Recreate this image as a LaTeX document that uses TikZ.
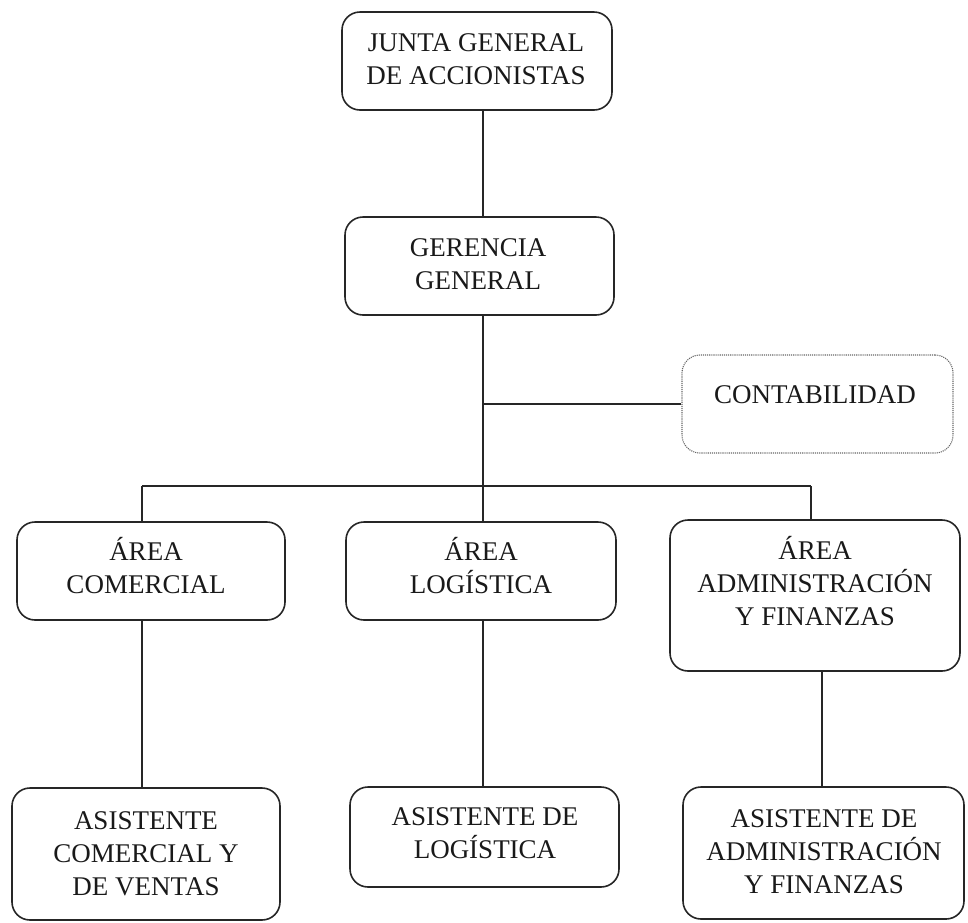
\documentclass[tikz,border=0pt]{standalone}
\usepackage{fontspec}
\setmainfont{Liberation Serif}
\begin{document}
\begin{tikzpicture}[x=1pt,y=-1pt,
  orgbox/.style={draw=black!85, line width=1.6pt, rounded corners=18pt,
    inner sep=0pt, anchor=center},
  dotbox/.style={draw=black!60, line width=1.1pt, densely dotted,
    rounded corners=18pt, inner sep=0pt, anchor=center},
  lbl/.style={align=center, anchor=base, inner sep=0pt,
    font=\fontsize{27}{33}\selectfont, text=black!90},
  link/.style={draw=black!85, line width=1.5pt}]
\useasboundingbox (0,0) rectangle (968,922);

% boxes: centre, width, height
\node[orgbox, minimum width=270pt, minimum height=98pt]  (junta) at (477,61) {};
\node[orgbox, minimum width=269pt, minimum height=98pt]  (geren) at (479.5,266) {};
\node[dotbox, minimum width=271pt, minimum height=98pt]  (conta) at (817.5,404) {};
\node[orgbox, minimum width=268pt, minimum height=98pt]  (acom)  at (151,571) {};
\node[orgbox, minimum width=270pt, minimum height=98pt]  (alog)  at (481,571) {};
\node[orgbox, minimum width=290pt, minimum height=151pt] (aadm)  at (815,595.5) {};
\node[orgbox, minimum width=268pt, minimum height=132pt] (scom)  at (146,854) {};
\node[orgbox, minimum width=269pt, minimum height=100pt] (slog)  at (484.5,837) {};
\node[orgbox, minimum width=281pt, minimum height=132pt] (sadm)  at (823.5,853) {};

% labels, anchored on the baseline of their last line
\node[lbl] (junta-t) at (476,84)  {JUNTA GENERAL\\DE ACCIONISTAS};
\node[lbl] (geren-t) at (478,289) {GERENCIA\\GENERAL};
\node[lbl] (conta-t) at (815,403) {CONTABILIDAD};
\node[lbl] (acom-t)  at (146,593) {ÁREA\\COMERCIAL};
\node[lbl] (alog-t)  at (481,593) {ÁREA\\LOGÍSTICA};
\node[lbl] (aadm-t)  at (815,625) {ÁREA\\ADMINISTRACIÓN\\Y FINANZAS};
\node[lbl] (scom-t)  at (146,895) {ASISTENTE\\COMERCIAL Y\\DE VENTAS};
\node[lbl] (slog-t)  at (485,858) {ASISTENTE DE\\LOGÍSTICA};
\node[lbl] (sadm-t)  at (824,893) {ASISTENTE DE\\ADMINISTRACIÓN\\Y FINANZAS};

% connector guides
\coordinate (trunk) at (483,0);
\coordinate (bus)   at (0,486);
\coordinate (colA)  at (142,0);
\coordinate (colC)  at (811,0);
\coordinate (colD)  at (822,0);

% connectors
\draw[link] (junta.south -| trunk) -- (geren.north -| trunk);
\draw[link] (geren.south -| trunk) -- (bus -| trunk);
\draw[link] (conta.west -| trunk) -- (conta.west);
\draw[link] (bus -| colA) -- (bus -| colC);
\draw[link] (bus -| colA) -- (acom.north -| colA);
\draw[link] (bus -| trunk) -- (alog.north -| trunk);
\draw[link] (bus -| colC) -- (aadm.north -| colC);
\draw[link] (acom.south -| colA) -- (scom.north -| colA);
\draw[link] (alog.south -| trunk) -- (slog.north -| trunk);
\draw[link] (aadm.south -| colD) -- (sadm.north -| colD);
\end{tikzpicture}
\end{document}
